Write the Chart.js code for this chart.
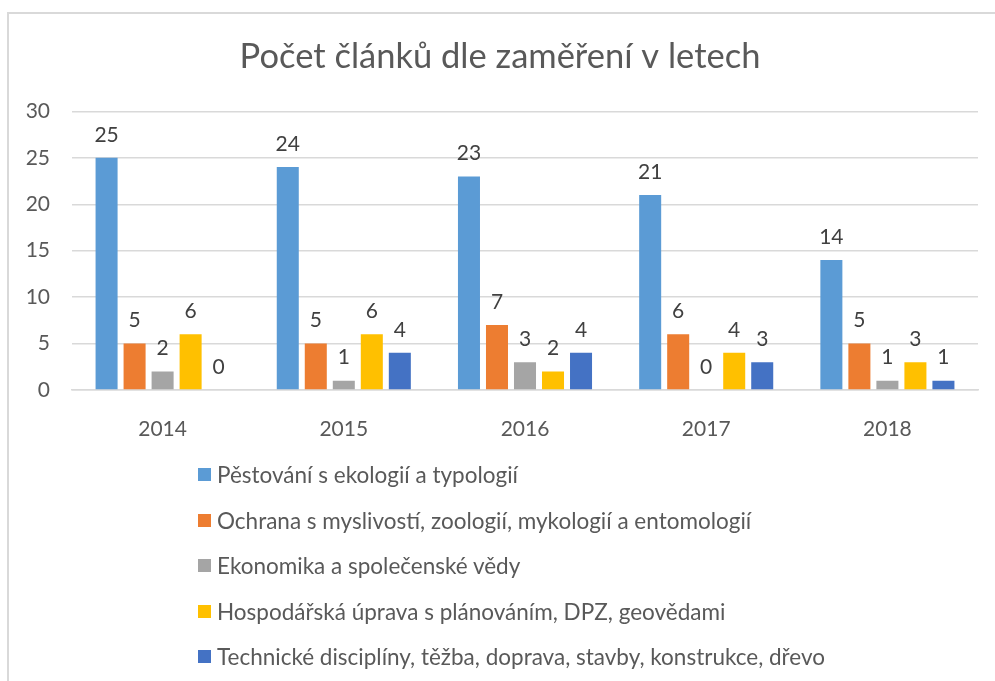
<!DOCTYPE html>
<html lang="cs">
<head>
<meta charset="utf-8">
<script src="https://cdn.jsdelivr.net/npm/chart.js@4/dist/chart.umd.min.js"></script>
<style>
    body { margin: 0; background: #fff; }
    #frame {
        position: relative;
        width: 995px;
        height: 681px;
        overflow: hidden;
        font-family: Lato, sans-serif;
    }
    #border {
        position: absolute;
        left: 7px;
        top: 12px;
        width: 1000px;
        height: 700px;
        border-left: 2px solid #d9d9d9;
        border-top: 2px solid #d9d9d9;
    }
    #chart-box {
        position: absolute;
        left: 0;
        top: 0;
        width: 995px;
        height: 460px;
    }
    #legend {
        position: absolute;
        left: 198px;
        top: 452px;
        list-style: none;
        margin: 0;
        padding: 0;
    }
    #legend li {
        display: flex;
        align-items: center;
        height: 45.5px;
        font-size: 22.5px;
        color: #595959;
    }
    #legend .swatch {
        width: 13px;
        height: 13px;
        margin-right: 6px;
    }
</style>
</head>
<body>
<div id="frame">
    <div id="border"></div>
    <div id="chart-box"><canvas id="chart"></canvas></div>
    <ul id="legend"></ul>
</div>
<script>
const years = ['2014', '2015', '2016', '2017', '2018'];

const seriesNames = [
    'Pěstování s ekologií a typologií',
    'Ochrana s myslivostí, zoologií, mykologií a entomologií',
    'Ekonomika a společenské vědy',
    'Hospodářská úprava s plánováním, DPZ, geovědami',
    'Technické disciplíny, těžba, doprava, stavby, konstrukce, dřevo',
];

const pestovani = [25, 24, 23, 21, 14];
const ochrana = [5, 5, 7, 6, 5];
const ekonomika = [2, 1, 3, 0, 1];
const uprava = [6, 6, 2, 4, 3];
const technicke = [0, 4, 4, 3, 1];

const seriesColors = ['#5b9bd5', '#ed7d31', '#a5a5a5', '#ffc000', '#4472c4'];

const yTicks = [0, 5, 10, 15, 20, 25, 30];

const textColor = '#595959';
const gridColor = '#d9d9d9';

// popisky hodnot nad sloupci (datalabels plugin neni k dispozici)
const valueLabels = {
    id: 'valueLabels',
    afterDatasetsDraw(chart) {
        const ctx = chart.ctx;
        ctx.save();
        ctx.font = '21px Lato, sans-serif';
        ctx.fillStyle = '#404040';
        ctx.textAlign = 'center';
        ctx.textBaseline = 'middle';
        chart.data.datasets.forEach((ds, i) => {
            chart.getDatasetMeta(i).data.forEach((bar, j) => {
                ctx.fillText(String(ds.data[j]), bar.x, bar.y - 23);
            });
        });
        ctx.restore();
    },
};

const allSeries = [pestovani, ochrana, ekonomika, uprava, technicke];

const chart = new Chart(document.getElementById('chart'), {
    type: 'bar',
    data: {
        labels: years,
        datasets: allSeries.map((values, i) => ({
            label: seriesNames[i],
            data: values,
            backgroundColor: seriesColors[i],
            borderWidth: 0,
            categoryPercentage: 0.773,
            barPercentage: 0.786,
        })),
    },
    options: {
        responsive: true,
        maintainAspectRatio: false,
        animation: false,
        layout: { padding: { left: 22, right: 17, top: 0, bottom: 0 } },
        plugins: {
            legend: { display: false },
            tooltip: { enabled: false },
            title: {
                display: true,
                text: 'Počet článků dle zaměření v letech',
                color: textColor,
                font: { family: 'Lato, sans-serif', size: 34.5, weight: '400' },
                padding: { top: 36, bottom: 34 },
            },
        },
        scales: {
            x: {
                grid: { display: false, drawTicks: false },
                border: { display: true, color: gridColor, width: 1.5 },
                ticks: {
                    color: textColor,
                    font: { family: 'Lato, sans-serif', size: 21 },
                    padding: 27,
                },
                afterFit: scale => { scale.height = 70; },
            },
            y: {
                min: 0,
                max: 30,
                afterBuildTicks: scale => {
                    scale.ticks = yTicks.map(v => ({ value: v }));
                },
                grid: { color: gridColor, lineWidth: 1.5, drawTicks: false },
                border: { display: false },
                ticks: {
                    color: textColor,
                    font: { family: 'Lato, sans-serif', size: 21 },
                    padding: 22,
                },
                afterFit: scale => { scale.width = 50; },
            },
        },
    },
    plugins: [valueLabels],
});

// legenda jako svisly seznam pod grafem
const legend = document.getElementById('legend');
chart.data.datasets.forEach(ds => {
    const item = document.createElement('li');
    const swatch = document.createElement('span');
    swatch.className = 'swatch';
    swatch.style.background = ds.backgroundColor;
    item.appendChild(swatch);
    item.appendChild(document.createTextNode(ds.label));
    legend.appendChild(item);
});
</script>
</body>
</html>
